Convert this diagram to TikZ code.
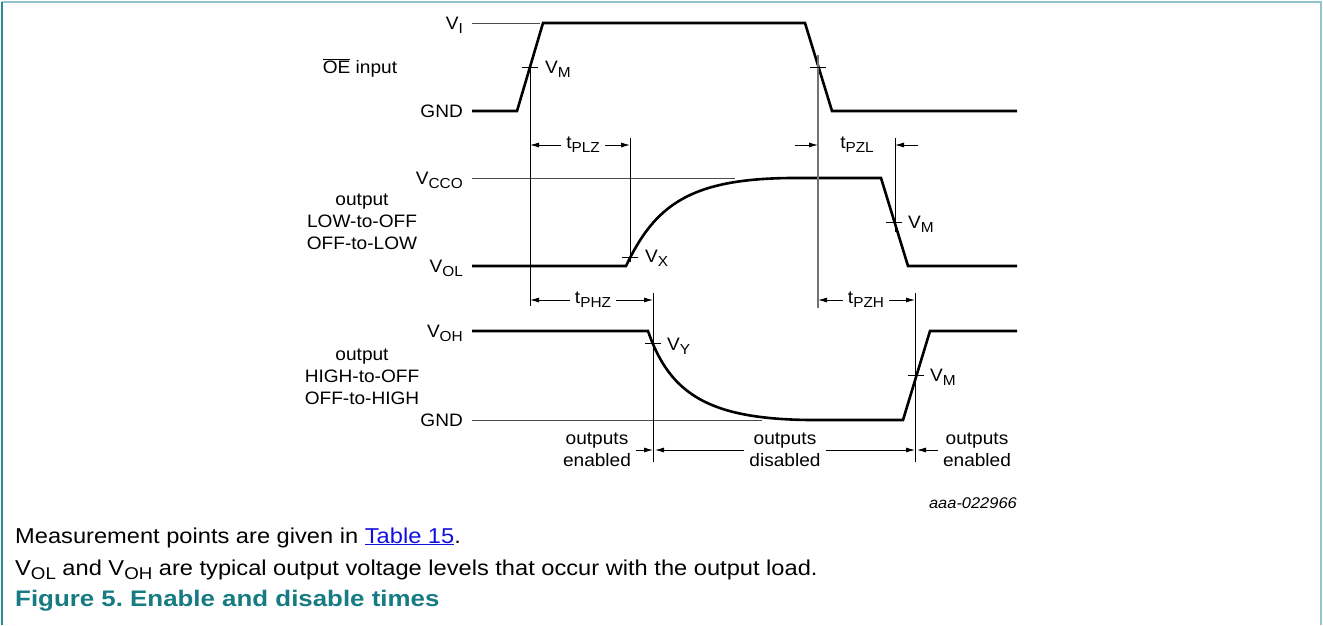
\documentclass[tikz,border=0pt]{standalone}
\usepackage{fontspec}
\setmainfont[FakeStretch=1.06]{Liberation Sans}
\newfontfamily\capfont[FakeStretch=1.1]{Liberation Sans}
\newfontfamily\capbfont[FakeStretch=1.15]{Liberation Sans Bold}
\usetikzlibrary{arrows.meta}
\definecolor{frameL}{HTML}{2A8C91}
\definecolor{frameT}{HTML}{8FC6CE}
\definecolor{figteal}{HTML}{167B82}
\definecolor{linkblue}{HTML}{1010E0}
\newcommand{\sbs}[1]{\raisebox{-0.42ex}{\fontsize{14.5}{14.5}\selectfont #1}}
\newcommand{\csbs}[1]{\raisebox{-0.42ex}{\fontsize{17}{17}\selectfont #1}}
\frenchspacing
\begin{document}
\begin{tikzpicture}[x=1pt,y=-1pt,
  wave/.style={line width=2.6pt, line join=miter},
  thin/.style={line width=0.8pt},
  refl/.style={line width=0.8pt, black!70},
  dim/.style={line width=0.8pt, -{Latex[length=9pt,width=5pt]}},
  lbl/.style={font=\fontsize{18}{22}\selectfont, inner sep=0pt},
  captxt/.style={font=\capfont\fontsize{21.5}{26}\selectfont, inner sep=0pt, anchor=base west}]
\useasboundingbox (0,0) rectangle (1323,625);
% frame
\draw[frameT, line width=2pt] (2,2) -- (1321,2) -- (1321,625);
\draw[frameL, line width=2pt] (2,2) -- (2,625);

% ---------- OE input ----------
\coordinate (oeA) at (472,111);
\coordinate (oeB) at (517,111);
\coordinate (oeC) at (543,23);
\coordinate (oeD) at (805,23);
\coordinate (oeE) at (832,111);
\coordinate (oeF) at (1017,111);
\draw[refl] (472,23) -- (540,23);
\draw[wave] (oeA) -- (oeB) -- (oeC) -- (oeD) -- (oeE) -- (oeF);

% ---------- output LOW-to-OFF ----------
\draw[refl] (472,178) -- (735,178);
\draw[wave] (472,266) -- (626,266) .. controls (655,205) and (690,179) .. (790,178)
  -- (881,178) -- (908,266) -- (1017,266);

% ---------- output HIGH-to-OFF ----------
\draw[refl] (472,420) -- (762,420);
\draw[wave] (472,331) -- (648,331) .. controls (670,395) and (710,419) .. (810,420)
  -- (903,420) -- (930,331) -- (1017,331);

% ---------- vertical measurement lines ----------
\draw[thin] (530,67) -- (530,306);
\draw[line width=1.1pt, black!55] (818,55) -- (818,308);
\draw[thin] (630,138) -- (630,262);
\draw[thin] (895,138) -- (895,232);
\draw[thin] (653,293) -- (653,462);
\draw[thin] (915,293) -- (915,462);

% ticks
\draw[thin] (522,67) -- (538,67);
\draw[thin] (810,67) -- (826,67);
\draw[thin] (622,257) -- (638,257);
\draw[thin] (886,222) -- (902,222);
\draw[thin] (645,343) -- (661,343);
\draw[thin] (908,375) -- (924,375);

% ---------- left labels ----------
\node[lbl, anchor=base east] (lVI) at (463,29.5) {V\sbs{I}};
\node[lbl] (lOE) at (360,68) {$\overline{\mbox{OE}}$ input};
\node[lbl, anchor=base east] (lGND1) at (463,117.5) {GND};
\node[lbl, anchor=base east] (lVCCO) at (463,184.5) {V\sbs{CCO}};
\node[lbl, align=center] (lout1) at (362,222) {output\\LOW-to-OFF\\OFF-to-LOW};
\node[lbl, anchor=base east] (lVOL) at (463,272.5) {V\sbs{OL}};
\node[lbl, anchor=base east] (lVOH) at (463,337.5) {V\sbs{OH}};
\node[lbl, align=center] (lout2) at (362,377) {output\\HIGH-to-OFF\\OFF-to-HIGH};
\node[lbl, anchor=base east] (lGND2) at (463,426.5) {GND};

% ---------- waveform labels ----------
\node[lbl, anchor=base west] (vm1) at (545,73.5) {V\sbs{M}};
\node[lbl, anchor=base west] (vx) at (645,262.5) {V\sbs{X}};
\node[lbl, anchor=base west] (vm2) at (908,228.5) {V\sbs{M}};
\node[lbl, anchor=base west] (vy) at (667,350.5) {V\sbs{Y}};
\node[lbl, anchor=base west] (vm3) at (930,381.5) {V\sbs{M}};

% ---------- timing dimensions ----------
\node[lbl] (tplz) at (583,145) {t\sbs{PLZ}};
\coordinate (tplzL) at (530,145);
\coordinate (tplzR) at (630,145);
\draw[dim] ([xshift=-5pt]tplz.west) -- (tplzL);
\draw[dim] ([xshift=5pt]tplz.east) -- (tplzR);

\node[lbl] (tpzl) at (857,145) {t\sbs{PZL}};
\coordinate (tpzlLs) at (795,145);
\coordinate (tpzlL) at (818,145);
\coordinate (tpzlRs) at (918,145);
\coordinate (tpzlR) at (895,145);
\draw[dim] (tpzlLs) -- (tpzlL);
\draw[dim] (tpzlRs) -- (tpzlR);

\node[lbl] (tphz) at (593,300) {t\sbs{PHZ}};
\coordinate (tphzL) at (530,300);
\coordinate (tphzR) at (653,300);
\draw[dim] ([xshift=-5pt]tphz.west) -- (tphzL);
\draw[dim] ([xshift=5pt]tphz.east) -- (tphzR);

\node[lbl] (tpzh) at (866,300) {t\sbs{PZH}};
\coordinate (tpzhL) at (818,300);
\coordinate (tpzhR) at (915,300);
\draw[dim] ([xshift=-5pt]tpzh.west) -- (tpzhL);
\draw[dim] ([xshift=5pt]tpzh.east) -- (tpzhR);

% ---------- outputs enabled / disabled ----------
\node[lbl, align=center] (oen1) at (597,450) {outputs\\enabled};
\node[lbl, align=center] (odis) at (785,450) {outputs\\disabled};
\node[lbl, align=center] (oen2) at (977,450) {outputs\\enabled};
\coordinate (b1) at (653,450);
\coordinate (b1r) at (655,450);
\coordinate (b2) at (915,450);
\coordinate (b2r) at (917,450);
\draw[dim] ([xshift=5pt]oen1.east) -- (b1);
\draw[dim] ([xshift=-5pt]odis.west) -- (b1r);
\draw[dim] ([xshift=5pt]odis.east) -- (b2);
\draw[dim] ([xshift=-5pt]oen2.west) -- (b2r);

\node[font=\itshape\fontsize{15.5}{17}\selectfont, inner sep=0pt, anchor=base east] (aaa) at (1017,508) {aaa-022966};

% ---------- caption ----------
\node[captxt] (c1) at (15,543) {Measurement points are given in \textcolor{linkblue}{\underline{Table 15}}.};
\node[captxt] (c2) at (15,575) {V\csbs{OL} and V\csbs{OH} are typical output voltage levels that occur with the output load.};
\node[captxt, text=figteal, font=\capbfont\fontsize{22.5}{26}\selectfont] (c3) at (15,606) {Figure 5. Enable and disable times};
\end{tikzpicture}
\end{document}
